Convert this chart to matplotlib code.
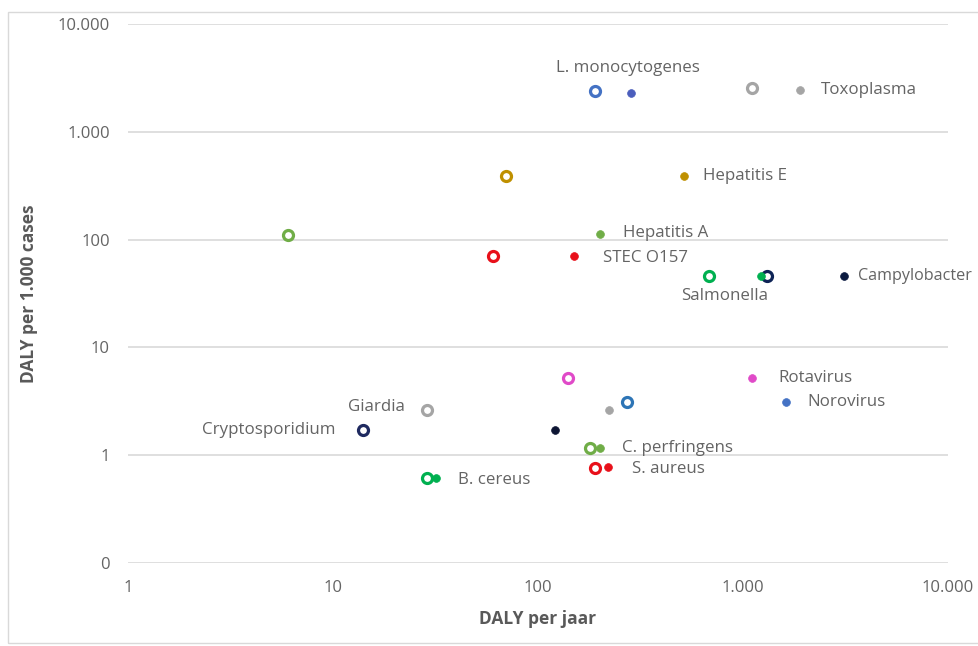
import matplotlib
matplotlib.use("Agg")
import matplotlib.pyplot as plt
from matplotlib.ticker import FixedLocator, FuncFormatter, NullLocator
from matplotlib.patches import Rectangle

plt.rcParams['font.family'] = ['Open Sans', 'DejaVu Sans']

# Pathogens
pathogens = ["L. monocytogenes", "Toxoplasma", "Hepatitis E", "Hepatitis A",
             "STEC O157", "Salmonella", "Campylobacter", "Rotavirus",
             "Norovirus", "Giardia", "Cryptosporidium", "C. perfringens",
             "S. aureus", "B. cereus"]

# Open rings: DALY per jaar / DALY per 1.000 cases
open_daly_year = [190, 1106, 70, 6.0, 60, 683, 1309, 140, 272, 28.7, 14, 179, 190, 28.7]
open_daly_cases = [2390, 2550, 389, 110, 70, 46, 46, 5.2, 3.12, 2.63, 1.71, 1.17, 0.76, 0.61]

# Filled dots: DALY per jaar / DALY per 1.000 cases
filled_daly_year = [284, 1897, 515, 200, 150, 1224, 3110, 1106, 1622, 222, 121, 200, 219, 31.8]
filled_daly_cases = [2290, 2440, 389, 112, 70, 46, 46, 5.2, 3.1, 2.63, 1.71, 1.17, 0.77, 0.61]

# Axis ticks
x_ticks = [1, 10, 100, 1000, 10000]
y_ticks = [0.1, 1, 10, 100, 1000, 10000]

# Marker colours per pathogen (ring, dot)
ring_colors = ["#4472C4", "#A5A5A5", "#BF9000", "#70AD47", "#E8101A", "#00B050",
               "#0E2356", "#E04AC8", "#2E75B6", "#A5A5A5", "#1F2A60", "#70AD47",
               "#E8101A", "#00B050"]
dot_colors = ["#4B5EBC", "#A5A5A5", "#BF9000", "#70AD47", "#E8101A", "#00B050",
              "#0B1A40", "#E04AC8", "#4472C4", "#A5A5A5", "#0D1533", "#70AD47",
              "#E8101A", "#00B050"]

# Label anchor ('open' or 'filled'), pixel offset and alignment
label_layout = {
    "L. monocytogenes": ("filled", (-3, 25), "center", "center"),
    "Toxoplasma": ("filled", (21, 0), "left", "center"),
    "Hepatitis E": ("filled", (19, 0), "left", "center"),
    "Hepatitis A": ("filled", (23, 1), "left", "center"),
    "STEC O157": ("filled", (29, -2), "left", "center"),
    "Salmonella": ("filled", (-36, -20), "center", "center"),
    "Campylobacter": ("filled", (14, 0), "left", "center"),
    "Rotavirus": ("filled", (26, 0), "left", "center"),
    "Norovirus": ("filled", (21, 0), "left", "center"),
    "Giardia": ("open", (-22, 3), "right", "center"),
    "Cryptosporidium": ("open", (-27, 0), "right", "center"),
    "C. perfringens": ("filled", (22, 0), "left", "center"),
    "S. aureus": ("filled", (24, -2), "left", "center"),
    "B. cereus": ("filled", (22, -2), "left", "center"),
}

W, H = 979, 646
fig = plt.figure(figsize=(W / 100, H / 100), dpi=100)
ax = fig.add_axes([128 / W, 83 / H, 820 / W, 539 / H])

ax.set_xscale("log")
ax.set_yscale("log")
ax.set_xlim(1, 10000)
ax.set_ylim(0.1, 10000)

for i in range(len(pathogens)):
    ax.plot(open_daly_year[i], open_daly_cases[i], linestyle="none", marker="o",
            markersize=7.2, markerfacecolor="white", markeredgecolor=ring_colors[i],
            markeredgewidth=2.3, zorder=3)
    ax.plot(filled_daly_year[i], filled_daly_cases[i], linestyle="none", marker="o",
            markersize=5.6, markerfacecolor=dot_colors[i], markeredgecolor=dot_colors[i],
            markeredgewidth=0.5, zorder=4)

text_grey = "#646464"
for i, name in enumerate(pathogens):
    anchor, offset, ha, va = label_layout[name]
    if anchor == "open":
        xy = (open_daly_year[i], open_daly_cases[i])
    else:
        xy = (filled_daly_year[i], filled_daly_cases[i])
    size = 11.6 if name == "Campylobacter" else 12.2
    ax.annotate(name, xy=xy, xytext=offset, textcoords="offset pixels",
                ha=ha, va=va, fontsize=size, color=text_grey, zorder=5,
                annotation_clip=False)

def thousands(v, pos=None):
    return f"{v:,.0f}".replace(",", ".")

ax.xaxis.set_major_locator(FixedLocator(x_ticks))
ax.yaxis.set_major_locator(FixedLocator(y_ticks))
ax.xaxis.set_minor_locator(NullLocator())
ax.yaxis.set_minor_locator(NullLocator())
ax.xaxis.set_major_formatter(FuncFormatter(thousands))
ax.yaxis.set_major_formatter(FuncFormatter(thousands))
ax.tick_params(axis="both", length=0, labelsize=12, labelcolor=text_grey)
ax.tick_params(axis="x", pad=12)
ax.tick_params(axis="y", pad=13)

ax.grid(axis="y", color="#D9D9D9", linewidth=1.2)
ax.set_axisbelow(True)
for s in ax.spines.values():
    s.set_visible(False)

ax.set_xlabel("DALY per jaar", fontsize=12.5, fontweight="bold", color="#595959",
              labelpad=10)
ax.set_ylabel("DALY per 1.000 cases", fontsize=12.5, fontweight="bold", color="#595959",
              labelpad=14)

# Chart frame
fig.patches.append(Rectangle((8 / W, 3 / H), 1.0, (643 - 12) / H, transform=fig.transFigure,
                             fill=False, edgecolor="#D9D9D9", linewidth=1.0))

fig.savefig("out.png", dpi=100, facecolor="white")
